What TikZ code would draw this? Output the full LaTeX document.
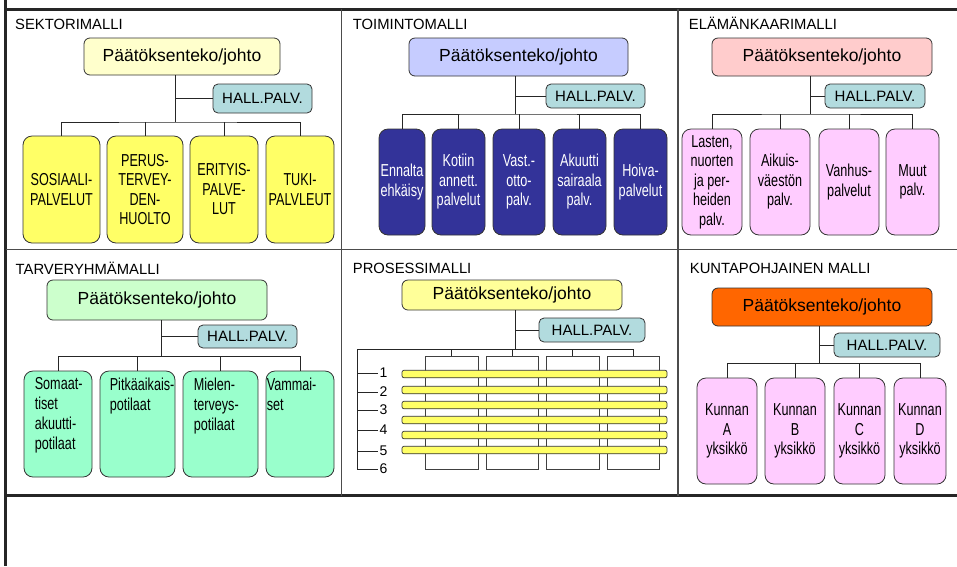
\documentclass[tikz,border=0pt]{standalone}
\usepackage{fontspec}
\setmainfont{Liberation Sans}
\newfontfamily\kidfont[FakeStretch=0.73]{Liberation Sans}
\definecolor{hallblue}{RGB}{178,219,222}
\definecolor{headyellow}{RGB}{255,255,204}
\definecolor{kidyellow}{RGB}{255,255,102}
\definecolor{headblue}{RGB}{198,204,255}
\definecolor{kidnavy}{RGB}{51,51,153}
\definecolor{headrose}{RGB}{255,204,204}
\definecolor{kidpink}{RGB}{255,204,255}
\definecolor{headgreen}{RGB}{204,255,204}
\definecolor{kidmint}{RGB}{153,255,204}
\definecolor{headlemon}{RGB}{255,255,153}
\definecolor{headorange}{RGB}{255,102,0}
\tikzset{
  frame/.style = {line width=3pt, black!85},
  divider/.style = {line width=1.3pt, black!70},
  title/.style = {anchor=base west, inner sep=0pt, font=\fontsize{14.8}{17}\selectfont},
  head/.style = {draw=black!80, line width=0.8pt, rounded corners=6pt, inner sep=0pt,
    font=\fontsize{17.5}{21}\selectfont},
  hall/.style = {draw=black!80, line width=0.8pt, rounded corners=5pt, inner sep=0pt,
    fill=hallblue, font=\fontsize{15}{18}\selectfont},
  kid/.style = {draw=black!80, line width=0.8pt, rounded corners=9pt, inner sep=0pt,
    align=center, font=\kidfont\fontsize{17.3}{19.5}\selectfont},
  kidtext/.style = {anchor=north west, inner sep=0pt, align=left,
    font=\kidfont\fontsize{17.3}{20}\selectfont},
  link/.style = {draw=black!85, line width=0.8pt},
  column/.style = {draw=black!75, line width=0.8pt, inner sep=0pt},
  bar/.style = {draw=black!80, line width=0.7pt, rounded corners=2pt, fill=kidyellow, inner sep=0pt},
  stepnum/.style = {anchor=west, inner sep=1.5pt, font=\fontsize{14}{16}\selectfont}
}

\begin{document}
\begin{tikzpicture}[x=1pt,y=-1pt]
  \useasboundingbox (0,0) rectangle (957,566);
  % frame
  \draw[frame] (5.5,0) -- (5.5,566);
  \draw[frame] (4,9) -- (957,9);
  \draw[frame] (4,495.5) -- (957,495.5);
  \draw[divider] (5.5,249.5) -- (957,249.5);
  \draw[divider] (341.5,9) -- (341.5,495.5);
  \draw[divider] (678,9) -- (678,495.5);

  % SEKTORIMALLI
  \node[title] (s1title) at (15,29) {SEKTORIMALLI};
  \node[head, fill=headyellow, minimum width=196pt, minimum height=37pt] (s1head) at (182,56.5) {Päätöksenteko/johto};
  \node[hall, minimum width=99pt, minimum height=29pt] (s1hall) at (262.5,98.5) {HALL.PALV.};
  \coordinate (s1bus) at (175,122);
  \foreach \n/\x/\w/\t in {a/61.5/77/{SOSIAALI-\\PALVELUT}, b/145/76/{PERUS-\\TERVEY-\\DEN-\\HUOLTO},
      c/224/68/{ERITYIS-\\PALVE-\\LUT}, d/300/68/{TUKI-\\PALVLEUT}}
    \node[kid, fill=kidyellow, minimum width=\w pt, minimum height=107pt] (s1\n) at (\x,189.5) {\t};
  \draw[link] (s1head.south -| s1bus) -- (s1bus);
  \draw[link] (s1hall.west -| s1bus) -- (s1hall.west);
  \draw[link] (s1a.north) |- (s1bus) -| (s1d.north);
  \foreach \n in {b,c}
    \draw[link] (s1\n.north) -- (s1\n.north |- s1bus);

  % TOIMINTOMALLI
  \node[title] (s2title) at (352.7,29) {TOIMINTOMALLI};
  \node[head, fill=headblue, minimum width=219pt, minimum height=38pt] (s2head) at (518.5,57) {Päätöksenteko/johto};
  \node[hall, minimum width=99pt, minimum height=24pt] (s2hall) at (595.5,96) {HALL.PALV.};
  \coordinate (s2bus) at (515,114);
  \foreach \n/\x/\w/\t in {a/402/46/{Ennalta\\ehkäisy}, b/458.5/53/{Kotiin\\annett.\\palvelut},
      c/519/52/{Vast.-\\otto-\\palv.}, d/579.5/53/{Akuutti\\sairaala\\palv.}, e/640.5/53/{Hoiva-\\palvelut}}
    \node[kid, fill=kidnavy, text=white, minimum width=\w pt, minimum height=106pt] (s2\n) at (\x,182) {\t};
  \draw[link] (s2head.south -| s2bus) -- (s2bus);
  \draw[link] (s2hall.west -| s2bus) -- (s2hall.west);
  \draw[link] (s2a.north) |- (s2bus) -| (s2e.north);
  \foreach \n in {b,c,d}
    \draw[link] (s2\n.north) -- (s2\n.north |- s2bus);

  % ELÄMÄNKAARIMALLI
  \node[title] (s3title) at (688.7,29) {ELÄMÄNKAARIMALLI};
  \node[head, fill=headrose, minimum width=220pt, minimum height=38pt] (s3head) at (822,57) {Päätöksenteko/johto};
  \node[hall, minimum width=100pt, minimum height=24pt] (s3hall) at (875,96) {HALL.PALV.};
  \coordinate (s3bus) at (810,114);
  \foreach \n/\x/\w/\t in {a/712/60/{Lasten,\\nuorten\\ja per-\\heiden\\palv.}, b/780/60/{Aikuis-\\väestön\\palv.},
      c/849/60/{Vanhus-\\palvelut}, d/912.5/53/{Muut\\palv.}}
    \node[kid, fill=kidpink, minimum width=\w pt, minimum height=106pt] (s3\n) at (\x,182) {\t};
  \draw[link] (s3head.south -| s3bus) -- (s3bus);
  \draw[link] (s3hall.west -| s3bus) -- (s3hall.west);
  \draw[link] (s3a.north) |- (s3bus) -| (s3d.north);
  \foreach \n in {b,c}
    \draw[link] (s3\n.north) -- (s3\n.north |- s3bus);

  % TARVERYHMÄMALLI
  \node[title] (s4title) at (15.5,274) {TARVERYHMÄMALLI};
  \node[head, fill=headgreen, minimum width=220pt, minimum height=40pt] (s4head) at (157,300) {Päätöksenteko/johto};
  \node[hall, minimum width=99pt, minimum height=23pt] (s4hall) at (247.5,336.5) {HALL.PALV.};
  \coordinate (s4bus) at (161,356);
  \foreach \n/\x/\w/\i/\t in {a/58/68/11/{Somaat-\\tiset\\akuutti-\\potilaat}, b/137.5/75/10/{Pitkäaikais-\\potilaat},
      c/220.5/75/11/{Mielen-\\terveys-\\potilaat}, d/300/68/1/{Vammai-\\set}}{
    \node[kid, fill=kidmint, minimum width=\w pt, minimum height=106pt] (s4\n) at (\x,424) {};
    \node[kidtext] (s4\n text) at ([xshift=\i pt,yshift=-7pt]s4\n.north west) {\t};
  }
  \draw[link] (s4head.south -| s4bus) -- (s4bus);
  \draw[link] (s4hall.west -| s4bus) -- (s4hall.west);
  \draw[link] (s4a.north) |- (s4bus) -| (s4d.north);
  \foreach \n in {b,c}
    \draw[link] (s4\n.north) -- (s4\n.north |- s4bus);

  % PROSESSIMALLI
  \node[title] (s5title) at (352.7,273.5) {PROSESSIMALLI};
  \node[head, fill=headlemon, minimum width=220pt, minimum height=30pt] (s5head) at (512,295) {Päätöksenteko/johto};
  \node[hall, minimum width=106pt, minimum height=24pt] (s5hall) at (592,330) {HALL.PALV.};
  \coordinate (s5bus) at (515,349);
  \coordinate (s5left) at (357,349);
  \foreach \n/\x/\w in {1/451.5/53, 2/512/52, 3/572.5/53, 4/633/52}
    \node[column, minimum width=\w pt, minimum height=113pt] (s5c\n) at (\x,412.5) {};
  \foreach \n/\y in {1/374, 2/390, 3/405, 4/420, 5/435, 6/450}
    \node[bar, minimum width=265pt, minimum height=7.5pt] (s5r\n) at (534.5,\y) {};
  \foreach \n/\y in {1/373, 2/392, 3/410, 4/430, 5/451, 6/469}
    \node[stepnum] (s5n\n) at (378,\y) {\n};
  \draw[link] (s5head.south -| s5bus) -- (s5bus);
  \draw[link] (s5hall.west -| s5bus) -- (s5hall.west);
  \draw[link] (s5c4.north) |- (s5left) |- (s5n6.west);
  \foreach \n in {1,2,3}
    \draw[link] (s5c\n.north) -- (s5c\n.north |- s5left);
  \foreach \n in {1,...,5}
    \draw[link] (s5left |- s5n\n.west) -- (s5n\n.west);

  % KUNTAPOHJAINEN MALLI
  \node[title] (s6title) at (689.7,273.5) {KUNTAPOHJAINEN MALLI};
  \node[head, fill=headorange, minimum width=220pt, minimum height=38pt] (s6head) at (822,307) {Päätöksenteko/johto};
  \node[hall, minimum width=106pt, minimum height=24pt] (s6hall) at (887,345) {HALL.PALV.};
  \coordinate (s6bus) at (819,363);
  \foreach \n/\x/\w/\t in {a/727/60/A, b/795/60/B, c/859.5/51/C, d/920/52/D}
    \node[kid, fill=kidpink, minimum width=\w pt, minimum height=106pt] (s6\n) at (\x,431) {Kunnan\\\t\\yksikkö};
  \draw[link] (s6head.south -| s6bus) -- (s6bus);
  \draw[link] (s6hall.west -| s6bus) -- (s6hall.west);
  \draw[link] (s6a.north) |- (s6bus) -| (s6d.north);
  \foreach \n in {b,c}
    \draw[link] (s6\n.north) -- (s6\n.north |- s6bus);
\end{tikzpicture}
\end{document}
